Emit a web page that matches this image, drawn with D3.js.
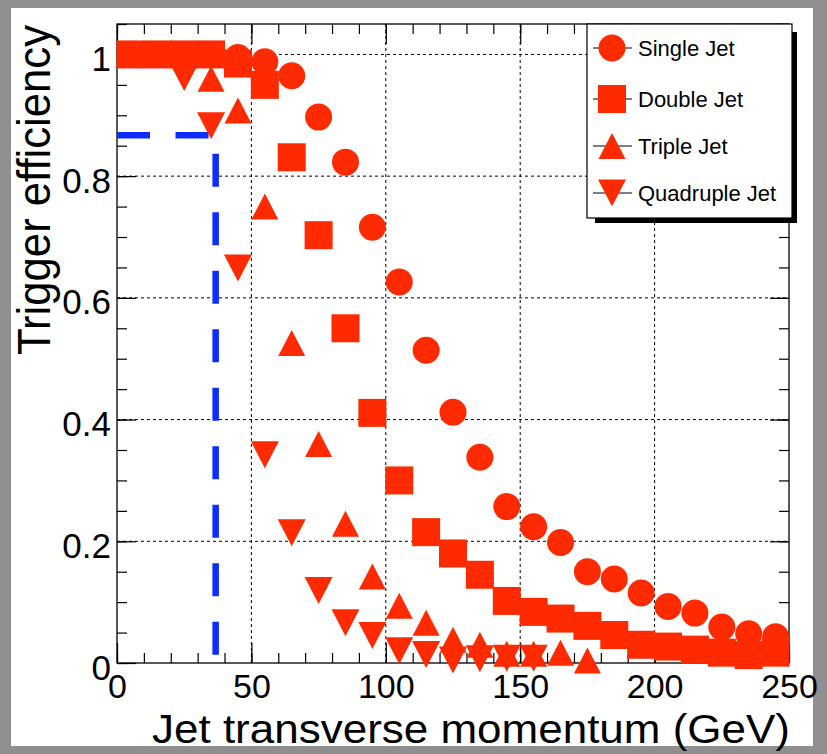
<!DOCTYPE html>
<html>
<head>
<meta charset="utf-8">
<script src="https://cdn.jsdelivr.net/npm/d3@7"></script>
<style>
  body { margin: 0; background: #8f8f8f; }
  svg { display: block; }
  text { font-family: "Liberation Sans", Arial, Helvetica, sans-serif; fill: #000; }
</style>
</head>
<body>
<svg id="chart" width="827" height="754"></svg>
<script>
// Jet pT bin centres (GeV)
const ptBins = [5, 15, 25, 35, 45, 55, 65, 75, 85, 95, 105, 115, 125, 135, 145, 155, 165, 175, 185, 195, 205, 215, 225, 235, 245];

// Trigger efficiency per bin for each jet multiplicity
const singleJet = [1.0, 1.0, 1.0, 1.0, 0.995, 0.988, 0.965, 0.897, 0.823, 0.716, 0.626, 0.514, 0.412, 0.338, 0.257, 0.224, 0.198, 0.15, 0.138, 0.115, 0.093, 0.082, 0.059, 0.048, 0.043];
const doubleJet = [1.0, 1.0, 1.0, 1.0, 0.985, 0.95, 0.831, 0.703, 0.55, 0.411, 0.30, 0.215, 0.18, 0.145, 0.102, 0.084, 0.073, 0.061, 0.046, 0.03, 0.027, 0.022, 0.017, 0.013, 0.017];
const tripleJet = [1.0, 1.0, 1.0, 0.96, 0.908, 0.75, 0.526, 0.36, 0.229, 0.142, 0.094, 0.066, 0.038, 0.03, 0.015, 0.015, 0.017, 0.004];
const quadJet   = [1.0, 1.0, 0.962, 0.883, 0.649, 0.342, 0.214, 0.119, 0.066, 0.045, 0.02, 0.014, 0.005, 0.007, 0.008, 0.008];

const seriesNames = ["Single Jet", "Double Jet", "Triple Jet", "Quadruple Jet"];
const seriesMarkers = ["circle", "square", "triangleUp", "triangleDown"];

// Axis ticks
const xMajorTicks = [0, 50, 100, 150, 200, 250];
const xTickLabels = ["0", "50", "100", "150", "200", "250"];
const yMajorTicks = [0, 0.2, 0.4, 0.6, 0.8, 1];
const yTickLabels = ["0", "0.2", "0.4", "0.6", "0.8", "1"];

// Threshold guide: pT and efficiency where the dashed line turns
const thresholdPt = [0, 36.7, 36.7];
const thresholdEff = [0.867, 0.867, 0];

const markerColor = "#ff2a00";
const guideColor = "#0d2cff";

const svg = d3.select("#chart");

// white canvas inside the grey frame
svg.append("rect").attr("x", 11).attr("y", 8).attr("width", 802).attr("height", 738).attr("fill", "#fff");

const plot = { left: 117, right: 789, top: 24, bottom: 663 };
const x = d3.scaleLinear().domain([0, 250]).range([plot.left, plot.right]);
const y = d3.scaleLinear().domain([0, 1.05]).range([plot.bottom, plot.top]);

// dotted grid at major ticks
const grid = svg.append("g").attr("stroke", "#000").attr("stroke-width", 1).attr("stroke-dasharray", "3,3");
xMajorTicks.filter(v => v > 0 && v < 250).forEach(v => {
  grid.append("line").attr("x1", x(v)).attr("x2", x(v)).attr("y1", plot.top).attr("y2", plot.bottom);
});
yMajorTicks.filter(v => v > 0).forEach(v => {
  grid.append("line").attr("x1", plot.left).attr("x2", plot.right).attr("y1", y(v)).attr("y2", y(v));
});

// axes: major + minor ticks on all four sides, pointing inward
const xMinor = d3.range(0, 251, 10);
const yMinor = d3.range(0, 1.051, 0.05);
function styleAxis(g) {
  g.select(".domain").remove();
  g.selectAll(".tick line").attr("stroke", "#000").attr("stroke-width", 1.2);
}
const fmtX = d => xTickLabels[xMajorTicks.indexOf(d)];
const fmtY = d => yTickLabels[yMajorTicks.indexOf(d)];

svg.append("g").attr("transform", `translate(0,${plot.bottom})`)
  .call(d3.axisBottom(x).tickValues(xMinor).tickSize(-10).tickFormat("")).call(styleAxis);
svg.append("g").attr("transform", `translate(0,${plot.bottom})`)
  .call(d3.axisBottom(x).tickValues(xMajorTicks).tickSize(-20).tickPadding(11).tickFormat(fmtX))
  .call(styleAxis)
  .call(g => g.selectAll("text").attr("font-size", 34).attr("font-family", null));
svg.append("g").attr("transform", `translate(0,${plot.top})`)
  .call(d3.axisTop(x).tickValues(xMinor).tickSize(-10).tickFormat("")).call(styleAxis);
svg.append("g").attr("transform", `translate(0,${plot.top})`)
  .call(d3.axisTop(x).tickValues(xMajorTicks).tickSize(-20).tickFormat("")).call(styleAxis);

svg.append("g").attr("transform", `translate(${plot.left},0)`)
  .call(d3.axisLeft(y).tickValues(yMinor).tickSize(-10).tickFormat("")).call(styleAxis);
svg.append("g").attr("transform", `translate(${plot.left},0)`)
  .call(d3.axisLeft(y).tickValues(yMajorTicks).tickSize(-19).tickPadding(6).tickFormat(fmtY))
  .call(styleAxis)
  .call(g => g.selectAll("text").attr("font-size", 35).attr("dy", "0.46em").attr("font-family", null));
svg.append("g").attr("transform", `translate(${plot.right},0)`)
  .call(d3.axisRight(y).tickValues(yMinor).tickSize(-10).tickFormat("")).call(styleAxis);
svg.append("g").attr("transform", `translate(${plot.right},0)`)
  .call(d3.axisRight(y).tickValues(yMajorTicks).tickSize(-19).tickFormat("")).call(styleAxis);

// plot frame
svg.append("rect").attr("x", plot.left).attr("y", plot.top)
  .attr("width", plot.right - plot.left).attr("height", plot.bottom - plot.top)
  .attr("fill", "none").attr("stroke", "#000").attr("stroke-width", 1.3);

// dashed threshold guide
const guidePts = thresholdPt.map((p, i) => [x(p), y(thresholdEff[i])]);
svg.append("path").attr("d", d3.line()(guidePts))
  .attr("fill", "none").attr("stroke", guideColor).attr("stroke-width", 6.5)
  .attr("stroke-dasharray", "33,25.5");

// marker shapes (full circle, square, up/down triangle)
function markerPath(kind) {
  const p = d3.path();
  if (kind === "circle") {
    p.arc(0, 0, 13.5, 0, 2 * Math.PI);
  } else if (kind === "square") {
    p.rect(-14, -14, 28, 28);
  } else if (kind === "triangleUp") {
    p.moveTo(0, -13); p.lineTo(13.5, 13); p.lineTo(-13.5, 13); p.closePath();
  } else {
    p.moveTo(0, 13.5); p.lineTo(14, -13.5); p.lineTo(-14, -13.5); p.closePath();
  }
  return p.toString();
}

const allSeries = [singleJet, doubleJet, tripleJet, quadJet];
allSeries.forEach((vals, si) => {
  svg.append("g").selectAll("path")
    .data(vals)
    .join("path")
    .attr("d", markerPath(seriesMarkers[si]))
    .attr("transform", (v, i) => `translate(${x(ptBins[i])},${y(v)})`)
    .attr("fill", markerColor);
});

// legend box with drop shadow
const legend = { left: 587, top: 24, right: 792, bottom: 218 };
svg.append("rect").attr("x", legend.left + 8).attr("y", legend.top + 8)
  .attr("width", legend.right - legend.left - 3).attr("height", legend.bottom - legend.top - 3)
  .attr("fill", "#000");
svg.append("rect").attr("x", legend.left).attr("y", legend.top)
  .attr("width", legend.right - legend.left).attr("height", legend.bottom - legend.top)
  .attr("fill", "#fff").attr("stroke", "#000").attr("stroke-width", 1.2);
const rowY = [48, 99, 146, 193];
seriesNames.forEach((name, i) => {
  const g = svg.append("g").attr("transform", `translate(0,${rowY[i]})`);
  g.append("line").attr("x1", 593).attr("x2", 632).attr("y1", 0).attr("y2", 0).attr("stroke", "#000").attr("stroke-width", 1);
  g.append("path").attr("d", markerPath(seriesMarkers[i])).attr("transform", "translate(612,0)").attr("fill", markerColor);
  g.append("text").attr("x", 638).attr("y", 0).attr("dy", "0.36em").attr("font-size", 22).text(name);
});

// axis titles
svg.append("text").attr("x", 152).attr("y", 743)
  .attr("font-size", 40).attr("textLength", 638).attr("lengthAdjust", "spacingAndGlyphs")
  .text("Jet transverse momentum (GeV)");
svg.append("text").attr("transform", "translate(50,355) rotate(-90)")
  .attr("font-size", 46).attr("textLength", 330).attr("lengthAdjust", "spacingAndGlyphs")
  .text("Trigger efficiency");
</script>
</body>
</html>
